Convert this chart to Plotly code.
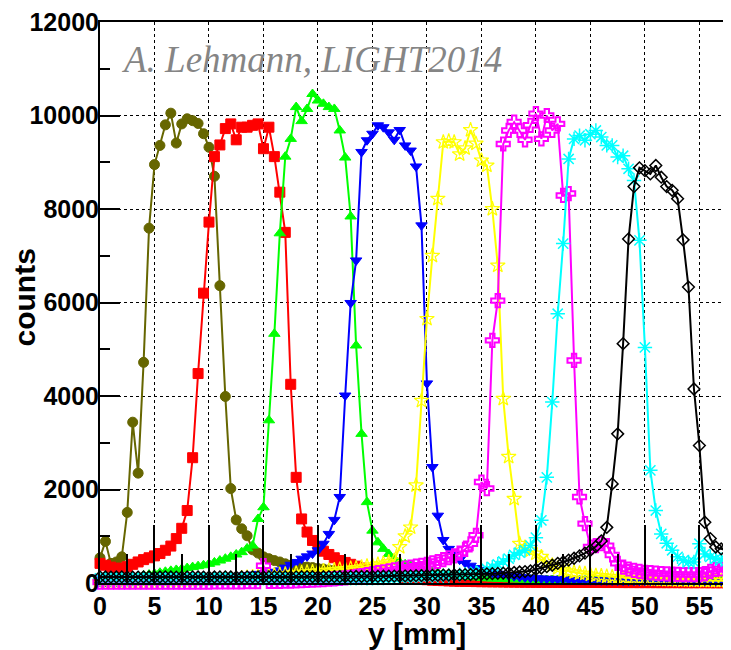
import plotly.graph_objects as go

# x positions (mm), 0.5 mm steps
y_mm = [
    0, 0.5, 1, 1.5, 2, 2.5, 3, 3.5, 4, 4.5,
    5, 5.5, 6, 6.5, 7, 7.5, 8, 8.5, 9, 9.5,
    10, 10.5, 11, 11.5, 12, 12.5, 13, 13.5, 14, 14.5,
    15, 15.5, 16, 16.5, 17, 17.5, 18, 18.5, 19, 19.5,
    20, 20.5, 21, 21.5, 22, 22.5, 23, 23.5, 24, 24.5,
    25, 25.5, 26, 26.5, 27, 27.5, 28, 28.5, 29, 29.5,
    30, 30.5, 31, 31.5, 32, 32.5, 33, 33.5, 34, 34.5,
    35, 35.5, 36, 36.5, 37, 37.5, 38, 38.5, 39, 39.5,
    40, 40.5, 41, 41.5, 42, 42.5, 43, 43.5, 44, 44.5,
    45, 45.5, 46, 46.5, 47, 47.5, 48, 48.5, 49, 49.5,
    50, 50.5, 51, 51.5, 52, 52.5, 53, 53.5, 54, 54.5,
    55, 55.5, 56, 56.5, 57, 57.5, 58,
]

olive = [
    540, 890, 420, 450, 560, 1510, 3440, 2350, 4720, 7590,
    8950, 9360, 9800, 10050, 9410, 9820, 9930, 9890, 9830, 9610,
    9320, 8700, 6360, 3990, 2020, 1350, 1160, 1010, 710, 640,
    560, 520, 480, 450, 410, 380, 360, 350, 340, 330,
    310, 300, 280, 270, 250, 240, 230, 220, 210, 200,
    190, 180, 170, 165, 160, 150, 145, 140, 135, 130,
    125, 120, 115, 110, 105, 100, 95, 90, 88, 85,
    80, 78, 75, 72, 70, 68, 65, 62, 60, 58,
    55, 52, 50, 50, 48, 46, 45, 44, 42, 40,
    40, 38, 38, 36, 35, 35, 34, 33, 32, 32,
    30, 30, 30, 28, 28, 28, 27, 26, 26, 25,
    25, 25, 24, 24, 23, 23, 22,
]

red = [
    420, 380, 340, 310, 320, 350, 400, 450, 500, 540,
    580, 630, 700, 790, 950, 1170, 1550, 2680, 4480, 6200,
    7720, 9120, 9370, 9720, 9820, 9480, 9750, 9750, 9790, 9820,
    9290, 9750, 9120, 8360, 7500, 4250, 2260, 1370, 1090, 910,
    770, 680, 610, 540, 480, 440, 400, 360, 320, 290,
    260, 230, 200, 180, 160, 140, 120, 105, 90, 80,
    70, 60, 55, 50, 45, 40, 38, 35, 32, 30,
    28, 26, 25, 24, 22, 20, 20, 18, 18, 16,
    16, 15, 15, 14, 14, 13, 13, 12, 12, 12,
    11, 11, 10, 10, 10, 10, 9, 9, 9, 8,
    8, 8, 8, 7, 7, 7, 7, 6, 6, 6,
    6, 6, 5, 5, 5, 5, 5,
]

green = [
    60, 70, 80, 90, 100, 110, 120, 140, 160, 180,
    200, 220, 240, 260, 280, 300, 320, 340, 360, 380,
    410, 440, 480, 520, 560, 610, 660, 740, 800, 1370,
    1620, 3480, 5330, 7480, 9120, 9500, 10180, 9880, 10140, 10460,
    10320, 10250, 10180, 10140, 9680, 9100, 7840, 5080, 3190, 1730,
    1120, 870, 730, 620, 520, 445, 400, 370, 330, 300,
    270, 240, 220, 200, 180, 160, 150, 140, 130, 120,
    110, 100, 95, 90, 85, 80, 78, 75, 72, 70,
    68, 65, 62, 60, 58, 56, 55, 54, 52, 50,
    50, 48, 48, 46, 46, 45, 45, 44, 44, 43,
    43, 42, 42, 42, 41, 41, 40, 40, 40, 40,
    40, 40, 40, 40, 40, 40, 40,
]

blue = [
    30, 30, 32, 34, 36, 38, 40, 42, 45, 48,
    50, 55, 60, 65, 70, 75, 80, 85, 90, 95,
    100, 110, 120, 130, 140, 150, 160, 170, 180, 195,
    210, 225, 240, 270, 330, 390, 450, 520, 570, 630,
    700, 840, 1050, 1350, 1840, 4010, 5990, 6900, 9220, 9470,
    9610, 9790, 9750, 9640, 9480, 9690, 9360, 9250, 8910, 7650,
    4270, 2480, 1440, 920, 730, 600, 500, 430, 370, 320,
    280, 250, 220, 200, 180, 160, 145, 130, 120, 110,
    100, 95, 90, 85, 80, 75, 72, 70, 66, 62,
    60, 58, 56, 54, 52, 50, 50, 48, 48, 46,
    46, 45, 45, 44, 44, 43, 43, 42, 42, 41,
    41, 40, 40, 40, 40, 40, 40,
]

yellow = [
    20, 20, 22, 24, 26, 28, 30, 32, 34, 36,
    38, 40, 42, 45, 48, 50, 55, 60, 65, 70,
    75, 80, 85, 90, 95, 100, 110, 120, 130, 140,
    150, 160, 170, 180, 190, 200, 210, 220, 230, 240,
    250, 260, 270, 280, 290, 300, 310, 320, 340, 360,
    380, 400, 420, 450, 480, 770, 1000, 1190, 2090, 3900,
    5650, 7000, 8220, 9430, 9450, 9430, 9170, 9300, 9690, 9400,
    9040, 8930, 8000, 6790, 3940, 2700, 1800, 840, 760, 700,
    630, 560, 450, 380, 320, 280, 250, 230, 210, 200,
    180, 160, 150, 140, 130, 120, 110, 100, 95, 90,
    85, 80, 75, 70, 68, 65, 62, 60, 58, 55,
    52, 50, 50, 48, 46, 45, 45,
]

magenta = [
    20, 20, 18, 18, 20, 20, 18, 18, 20, 20,
    20, 20, 18, 18, 20, 20, 18, 20, 20, 20,
    20, 22, 22, 24, 24, 26, 26, 28, 28, 30,
    370, 32, 34, 36, 38, 40, 45, 50, 55, 60,
    65, 70, 80, 90, 100, 110, 120, 140, 160, 180,
    200, 220, 240, 260, 280, 300, 320, 340, 360, 380,
    400, 430, 460, 500, 540, 580, 640, 720, 840, 1020,
    2160, 2020, 5190, 6040, 9390, 9680, 9860, 9680, 9480, 9790,
    10040, 9500, 10000, 9680, 9820, 8290, 8330, 4760, 1840, 1270,
    770, 800, 840, 800, 600, 420, 340, 300, 270, 250,
    230, 220, 210, 200, 195, 190, 185, 180, 180, 180,
    180, 200, 250, 290, 300, 310, 320,
]

cyan = [
    100, 105, 100, 100, 105, 100, 100, 105, 100, 100,
    100, 105, 100, 100, 105, 100, 100, 105, 100, 100,
    100, 100, 105, 100, 100, 105, 100, 100, 105, 100,
    100, 100, 105, 100, 100, 105, 100, 100, 105, 100,
    100, 100, 105, 100, 100, 105, 100, 100, 105, 100,
    100, 105, 105, 110, 110, 115, 115, 120, 120, 125,
    130, 135, 140, 150, 160, 170, 180, 190, 200, 220,
    260, 300, 340, 400, 460, 520, 600, 650, 700, 800,
    970, 1340, 2260, 3870, 5760, 7260, 9070, 9500, 9570, 9470,
    9600, 9680, 9540, 9360, 9360, 9110, 9140, 8860, 8610, 7330,
    5040, 2410, 1550, 1050, 850, 700, 560, 480, 450, 450,
    840, 620, 560, 520, 500, 480, 470,
]

black = [
    130, 128, 126, 128, 130, 127, 125, 127, 129, 128,
    126, 128, 130, 128, 126, 127, 129, 130, 128, 126,
    127, 129, 131, 130, 128, 127, 129, 131, 132, 130,
    129, 130, 132, 133, 131, 130, 132, 134, 135, 133,
    132, 134, 136, 137, 135, 136, 138, 140, 139, 140,
    142, 143, 145, 146, 148, 150, 152, 154, 156, 158,
    160, 162, 165, 168, 170, 172, 175, 178, 182, 186,
    190, 195, 200, 205, 210, 218, 225, 235, 245, 260,
    290, 320, 350, 380, 420, 450, 490, 530, 580, 640,
    700, 780, 900, 1190, 2120, 3190, 5120, 7360, 8480, 8880,
    8820, 8750, 8930, 8680, 8480, 8400, 8220, 7340, 6330, 4150,
    2940, 1300, 950, 770, 730, 760, 700,
]

series = [
    (olive, "#666600", "circle", 10, 1),
    (red, "#ff0000", "square", 10, 1),
    (green, "#00ff00", "triangle-up", 10, 1),
    (blue, "#0000ff", "triangle-down", 10, 1),
    (yellow, "#ffff00", "star-open", 11, 1.2),
    (magenta, "#ff00ff", "cross-open", 11, 2),
    (cyan, "#00ffff", "asterisk-open", 12, 1.5),
    (black, "#000000", "diamond-open", 9, 1.5),
]

fig = go.Figure()
for vals, col, sym, sz, lw in series:
    fig.add_trace(go.Scatter(
        x=y_mm, y=vals, mode="lines+markers",
        line=dict(color=col, width=2),
        marker=dict(symbol=sym, size=sz, color=col, line=dict(color=col, width=lw)),
        cliponaxis=False,
    ))

tickfont = dict(family="Liberation Sans", size=25, color="black", weight="bold")

# the page body has an 8 px default margin, so the figure is sized to end at the window edge
fig.update_layout(
    template="none",
    width=723, height=642,
    margin=dict(l=92, r=0, t=14, b=67, autoexpand=False),
    plot_bgcolor="white", paper_bgcolor="white",
    showlegend=False,
    xaxis=dict(
        automargin=False,
        range=[0, 57.9], tickmode="linear", tick0=0, dtick=5,
        ticks="inside", ticklen=58, tickwidth=1.5, tickcolor="black",
        minor=dict(tick0=0, dtick=2.5, ticks="inside", ticklen=29, tickwidth=1.5, tickcolor="black", showgrid=False),
        showgrid=True, gridcolor="black", griddash="dot", gridwidth=1,
        showline=True, linecolor="black", linewidth=2, mirror=True,
        zeroline=False, tickfont=tickfont, ticklabelstandoff=0,
        ticklabeloverflow="allow",
    ),
    yaxis=dict(
        automargin=False,
        range=[0, 12000], tickmode="linear", tick0=0, dtick=2000, tickformat="d",
        ticks="inside", ticklen=20, tickwidth=1.5, tickcolor="black",
        minor=dict(tick0=0, dtick=1000, ticks="inside", ticklen=10, tickwidth=1.5, tickcolor="black", showgrid=False),
        showgrid=True, gridcolor="black", griddash="dot", gridwidth=1,
        showline=True, linecolor="black", linewidth=2, mirror=False,
        zeroline=False, tickfont=tickfont, ticklabelstandoff=-6,
        ticklabeloverflow="allow",
    ),
    annotations=[
        dict(text="counts", xref="paper", yref="paper", x=-0.1204, y=0.509,
             textangle=-90, showarrow=False, xanchor="center", yanchor="middle",
             font=dict(family="Liberation Sans", size=30, color="black", weight="bold")),
        dict(text="y [mm]", xref="paper", yref="paper", x=0.502, y=-0.090,
             showarrow=False, xanchor="center", yanchor="middle",
             font=dict(family="Liberation Sans", size=30, color="black", weight="bold")),
        dict(text="<i>A. Lehmann, LIGHT2014</i>", xref="paper", yref="paper", x=0.030, y=0.933,
             showarrow=False, xanchor="left", yanchor="middle",
             font=dict(family="Liberation Serif", size=37, color="#858585")),
    ],
)

fig.write_html("out.html")
